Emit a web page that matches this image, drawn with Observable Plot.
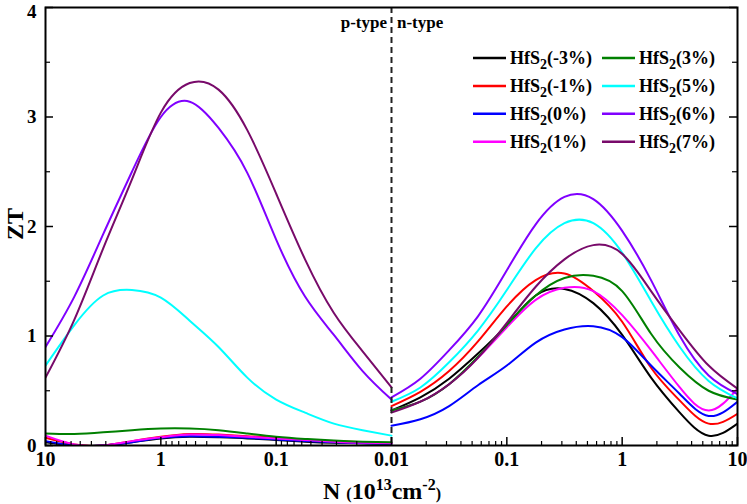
<!DOCTYPE html>
<html>
<head>
<meta charset="utf-8">
<script src="https://cdn.jsdelivr.net/npm/d3@7"></script>
<script src="https://cdn.jsdelivr.net/npm/@observablehq/plot@0.6"></script>
<style>
  body { margin: 0; background: #fff; }
</style>
</head>
<body>
<div id="chart"></div>
<script>
// strain series, legend order
const strains = ["-3%", "-1%", "0%", "1%", "3%", "5%", "6%", "7%"];
const colors  = ["#000000", "#ff0000", "#0000ff", "#ff00ff", "#008000", "#00ffff", "#8000ff", "#780a6a"];

// carrier concentration samples (10^13 cm^-2)
const nP = [10, 5.62, 3.16, 1.78, 1, 0.562, 0.316, 0.178, 0.1, 0.0562, 0.0316, 0.0178, 0.01];
const nN = [0.01, 0.0178, 0.0316, 0.0562, 0.1, 0.178, 0.316, 0.562, 1, 1.78, 3.16, 5.62, 10];

// p-type ZT
const pM3 = [0.03, 0.0, 0.0, 0.03, 0.065, 0.08, 0.075, 0.065, 0.05, 0.035, 0.025, 0.02, 0.015];
const pM1 = [0.07, 0.01, 0.0, 0.04, 0.08, 0.105, 0.10, 0.085, 0.07, 0.05, 0.04, 0.03, 0.02];
const p0  = [0.04, 0.0, 0.0, 0.03, 0.07, 0.085, 0.08, 0.07, 0.055, 0.04, 0.03, 0.02, 0.015];
const p1  = [0.09, 0.01, 0.0, 0.04, 0.075, 0.10, 0.095, 0.08, 0.065, 0.05, 0.035, 0.025, 0.02];
const p3  = [0.11, 0.105, 0.12, 0.14, 0.155, 0.155, 0.14, 0.11, 0.08, 0.06, 0.045, 0.035, 0.03];
const p5  = [0.73, 1.10, 1.37, 1.42, 1.35, 1.14, 0.90, 0.62, 0.42, 0.30, 0.20, 0.14, 0.09];
const p6  = [0.90, 1.36, 1.93, 2.50, 3.00, 3.14, 2.90, 2.49, 1.88, 1.36, 1.01, 0.68, 0.42];
const p7  = [0.62, 1.15, 1.80, 2.43, 3.04, 3.31, 3.25, 2.88, 2.30, 1.70, 1.21, 0.86, 0.53];

// n-type ZT
const nM3 = [0.32, 0.44, 0.61, 0.84, 1.10, 1.37, 1.43, 1.30, 1.01, 0.62, 0.30, 0.09, 0.20];
const nM1 = [0.36, 0.49, 0.68, 0.95, 1.27, 1.51, 1.57, 1.41, 1.13, 0.71, 0.41, 0.20, 0.29];
const n0  = [0.18, 0.24, 0.36, 0.55, 0.73, 0.94, 1.06, 1.09, 0.99, 0.73, 0.47, 0.27, 0.40];
const n1  = [0.32, 0.40, 0.56, 0.80, 1.08, 1.33, 1.44, 1.41, 1.19, 0.87, 0.53, 0.32, 0.52];
const n3  = [0.32, 0.40, 0.56, 0.81, 1.10, 1.37, 1.53, 1.55, 1.41, 1.02, 0.71, 0.50, 0.42];
const n5  = [0.40, 0.53, 0.76, 1.05, 1.42, 1.80, 2.03, 2.03, 1.76, 1.32, 0.90, 0.59, 0.43];
const n6  = [0.44, 0.61, 0.87, 1.18, 1.60, 2.02, 2.27, 2.25, 1.96, 1.51, 1.00, 0.64, 0.47];
const n7  = [0.30, 0.40, 0.56, 0.80, 1.12, 1.45, 1.70, 1.83, 1.75, 1.41, 1.05, 0.73, 0.52];

const xTicks = [-3, -2, -1, 0, 1, 2, 3];
const xTickLabels = ["10", "1", "0.1", "0.01", "0.1", "1", "10"];
const yTicks = [0, 1, 2, 3, 4];

const pSeries = [pM3, pM1, p0, p1, p3, p5, p6, p7];
const nSeries = [nM3, nM1, n0, n1, n3, n5, n6, n7];

// p side runs 10 -> 0.01 left of the divider, n side 0.01 -> 10 right of it
const pos = (side, N) => side === "p" ? -(Math.log10(N) + 2) : Math.log10(N) + 2;

const rows = [];
strains.forEach((s, i) => {
  nP.forEach((N, j) => rows.push({strain: s, side: "p", x: pos("p", N), zt: pSeries[i][j]}));
  nN.forEach((N, j) => rows.push({strain: s, side: "n", x: pos("n", N), zt: nSeries[i][j]}));
});

// minor log ticks (2..9 in each decade) on both halves
const minorX = [];
for (const k of [-2, -1, 0]) {
  for (let m = 2; m <= 9; m++) {
    const N = m * Math.pow(10, k);
    minorX.push(pos("p", N), pos("n", N));
  }
}
const minorY = [0.5, 1.5, 2.5, 3.5];

const W = 747, H = 504, mL = 45, mR = 10, mT = 7, mB = 59;
const pw = W - mL - mR, ph = H - mT - mB;

const chart = Plot.plot({
  width: W, height: H,
  marginLeft: mL, marginRight: mR, marginTop: mT, marginBottom: mB,
  style: {fontFamily: "'Liberation Serif', 'Times New Roman', serif", fontWeight: "bold", fontSize: "20px", background: "white", color: "black"},
  x: {domain: [-3, 3], axis: null},
  y: {domain: [0, 4], axis: null},
  color: {domain: strains, range: colors},
  marks: [
    Plot.line(rows, {x: "x", y: "zt", z: d => d.strain + d.side, stroke: "strain", strokeWidth: 2, curve: "natural", clip: true}),
    Plot.ruleX([0], {stroke: "#222", strokeWidth: 2, strokeDasharray: "6,4"}),
    Plot.tickX(xTicks, {x: d => d, insetTop: ph - 8, strokeWidth: 1.5}),
    Plot.tickX(minorX, {x: d => d, insetTop: ph - 4, strokeWidth: 1.2}),
    Plot.tickY(yTicks, {y: d => d, insetRight: pw - 8, strokeWidth: 1.5}),
    Plot.tickY(minorY, {y: d => d, insetRight: pw - 5, strokeWidth: 1.2}),
    Plot.tickY(yTicks, {y: d => d, insetLeft: pw - 8, strokeWidth: 1.5}),
    Plot.tickY(minorY, {y: d => d, insetLeft: pw - 5, strokeWidth: 1.2}),
    Plot.axisX({ticks: xTicks, tickFormat: d => xTickLabels[xTicks.indexOf(d)], tickSize: 0, tickPadding: 6, label: null}),
    Plot.axisY({ticks: yTicks.slice(0, -1), tickFormat: d => String(d), tickSize: 0, tickPadding: 9, fontSize: 19, label: null}),
    // top label nudged down so it stays inside the picture
    Plot.axisY({ticks: yTicks.slice(-1), tickFormat: d => String(d), tickSize: 0, tickPadding: 9, fontSize: 19, dy: 4, label: null}),
    Plot.frame({strokeWidth: 2})
  ]
});

document.getElementById("chart").appendChild(chart);

const svg = d3.select(chart);

// legend, two columns
const lg = svg.append("g").attr("font-size", 18);
strains.forEach((s, i) => {
  const lx = i < 4 ? 473 : 602;
  const ly = 58 + (i % 4) * 27.9;
  lg.append("line").attr("x1", lx).attr("x2", lx + 33).attr("y1", ly).attr("y2", ly)
    .attr("stroke", colors[i]).attr("stroke-width", 2.5);
  const t = lg.append("text").attr("x", lx + 37).attr("y", ly + 6).attr("text-anchor", "start");
  t.append("tspan").text("HfS");
  t.append("tspan").attr("font-size", 14).attr("dy", 5).text("2");
  t.append("tspan").attr("dy", -5).text("(" + s + ")");
});

// region labels
svg.append("text").attr("x", 387).attr("y", 28).attr("text-anchor", "end").attr("font-size", 17).text("p-type");
svg.append("text").attr("x", 397).attr("y", 28).attr("text-anchor", "start").attr("font-size", 17).text("n-type");

// axis titles
svg.append("text").attr("transform", "translate(23,224) rotate(-90)").attr("text-anchor", "middle")
  .attr("font-size", 24).text("ZT");

const xl = svg.append("text").attr("x", 323).attr("y", 499).attr("text-anchor", "start").attr("font-size", 24);
xl.append("tspan").text("N ");
xl.append("tspan").attr("font-size", 16).text("(");
xl.append("tspan").text("10");
xl.append("tspan").attr("font-size", 16).attr("dy", -9).text("13");
xl.append("tspan").attr("dy", 9).text("cm");
xl.append("tspan").attr("font-size", 16).attr("dy", -9).text("-2");
xl.append("tspan").attr("font-size", 16).attr("dy", 9).text(")");
</script>
</body>
</html>
